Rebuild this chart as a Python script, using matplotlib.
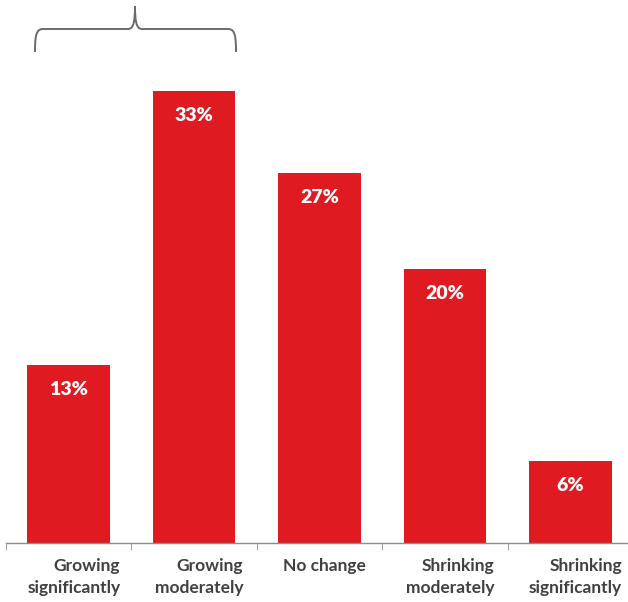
import matplotlib.pyplot as plt
from matplotlib.path import Path
from matplotlib.patches import PathPatch
import numpy as np

categories = ["Growing\nsignificantly", "Growing\nmoderately", "No change",
              "Shrinking\nmoderately", "Shrinking\nsignificantly"]
values = [13, 33, 27, 20, 6]   # percent

red = "#DF1A21"
font = ["Lato", "DejaVu Sans"]

fig = plt.figure(figsize=(6.28, 6.02), dpi=100)
ax = fig.add_axes([6/628, 59/602, 622/628, 543/602])

x = np.arange(len(values))
bars = ax.bar(x, values, width=0.66, color=red, zorder=2)

for xi, v in zip(x, values):
    ax.text(xi, v - 1.8, f"{v}%", ha="center", va="center", color="white",
            fontsize=14, fontweight="heavy", family=font)

ax.set_xlim(-0.5, 4.46)
ax.set_ylim(0, 39.6)

for s in ["top", "right", "left"]:
    ax.spines[s].set_visible(False)
ax.spines["bottom"].set_color("#8c8c8c")
ax.spines["bottom"].set_linewidth(1.0)
ax.set_yticks([])

ax.set_xticks(x + 0.04)
ax.set_xticklabels(categories, family=font, fontsize=12.5, fontweight="bold",
                   color="#404040", multialignment="right", linespacing=1.45)
ax.tick_params(axis="x", which="major", length=0, pad=11)
ax.set_xticks(np.arange(-0.5, 4.5, 1), minor=True)
ax.tick_params(axis="x", which="minor", length=5, color="#8c8c8c", direction="out")

# brace above the first two bars (figure pixel coords, y from top)
W, H = 628, 602
pts = [(35, 52), (35, 36), (36, 29), (43, 29),
       (128, 29), (134, 29), (135, 20), (135, 6),
       (135, 20), (136, 29), (142, 29),
       (228, 29), (235, 29), (236, 36), (236, 52)]
codes = [Path.MOVETO, Path.CURVE4, Path.CURVE4, Path.CURVE4,
         Path.LINETO, Path.CURVE4, Path.CURVE4, Path.CURVE4,
         Path.CURVE4, Path.CURVE4, Path.CURVE4,
         Path.LINETO, Path.CURVE4, Path.CURVE4, Path.CURVE4]
verts = [(px / W, 1 - py / H) for px, py in pts]
brace = PathPatch(Path(verts, codes), transform=fig.transFigure,
                  fill=False, edgecolor="#6a6a6a", linewidth=1.4)
fig.patches.append(brace)

fig.savefig("out.png", dpi=100)
